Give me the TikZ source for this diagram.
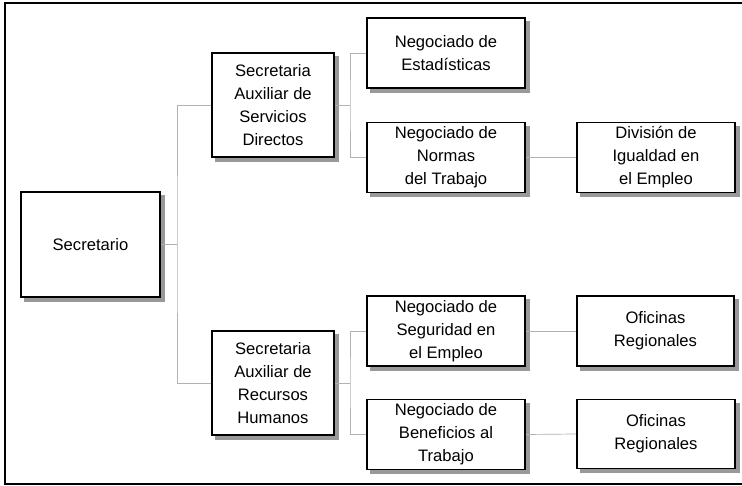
\documentclass[tikz,border=0pt]{standalone}
\usepackage{fontspec}
\setmainfont{Liberation Sans}
\usetikzlibrary{backgrounds}
\begin{document}
\begin{tikzpicture}[x=1pt,y=-1pt,
  box/.style={draw=black, line width=1.7pt, fill=white, inner sep=0pt, align=center,
    font=\fontsize{16.6}{23}\selectfont},
  shade box/.style={fill=black!40},
  link/.style={draw=black!30, line width=0.7pt}]
\useasboundingbox (0,0) rectangle (742,486);
\draw[line width=2.2pt] (746,3) -- (5,3) -- (5,484) -- (746,484);

\node[box, minimum width=139pt, minimum height=105pt] (sec) at (90.5,244.5) {Secretario};
\node[box, minimum width=122pt, minimum height=104pt] (sas) at (273,105) {Secretaria\\Auxiliar de\\Servicios\\Directos};
\node[box, minimum width=122pt, minimum height=104pt] (sar) at (273,383) {Secretaria\\Auxiliar de\\Recursos\\Humanos};
\node[box, minimum width=158pt, minimum height=70pt] (est) at (446,53) {Negociado de\\Estadísticas};
\node[box, minimum width=158pt, minimum height=70pt] (nor) at (446,157.5) {Negociado de\\Normas\\del Trabajo};
\node[box, minimum width=158pt, minimum height=70pt] (div) at (656,157.5) {División de\\Igualdad en\\el Empleo};
\node[box, minimum width=158pt, minimum height=70pt] (seg) at (446,331) {Negociado de\\Seguridad en\\el Empleo};
\node[box, minimum width=157pt, minimum height=70pt] (ofa) at (655.5,331) {Oficinas\\Regionales};
\node[box, minimum width=158pt, minimum height=70pt] (ben) at (446,434.5) {Negociado de\\Beneficios al\\Trabajo};
\node[box, minimum width=158pt, minimum height=69pt] (ofb) at (656,434) {Oficinas\\Regionales};

\begin{scope}[on background layer]
\fill[white] (0,0) rectangle (742,486);
\foreach \n in {sec,sas,sar,est,nor,div,seg,ofa,ben,ofb}
  \path[shade box] ([shift={(4,4)}]\n.north west) rectangle ([shift={(4,4)}]\n.south east);
\end{scope}

\coordinate (j1) at (177,244.5);
\coordinate (j2) at (350,105);
\coordinate (j3) at (350,383);

\draw[link] (sec.east) -- (j1);
\draw[link] (sas.west) -| (j1) |- (sar.west);
\draw[link] (sas.east) -- (j2);
\draw[link] (est.west) -| (j2) |- (nor.west);
\draw[link] (sar.east) -- (j3);
\draw[link] (seg.west) -| (j3) |- (ben.west);
\draw[link] (nor.east) -- (div.west);
\draw[link] (seg.east) -- (ofa.west);
\draw[link] (ben.east) -- (ofb.west);
\end{tikzpicture}
\end{document}
